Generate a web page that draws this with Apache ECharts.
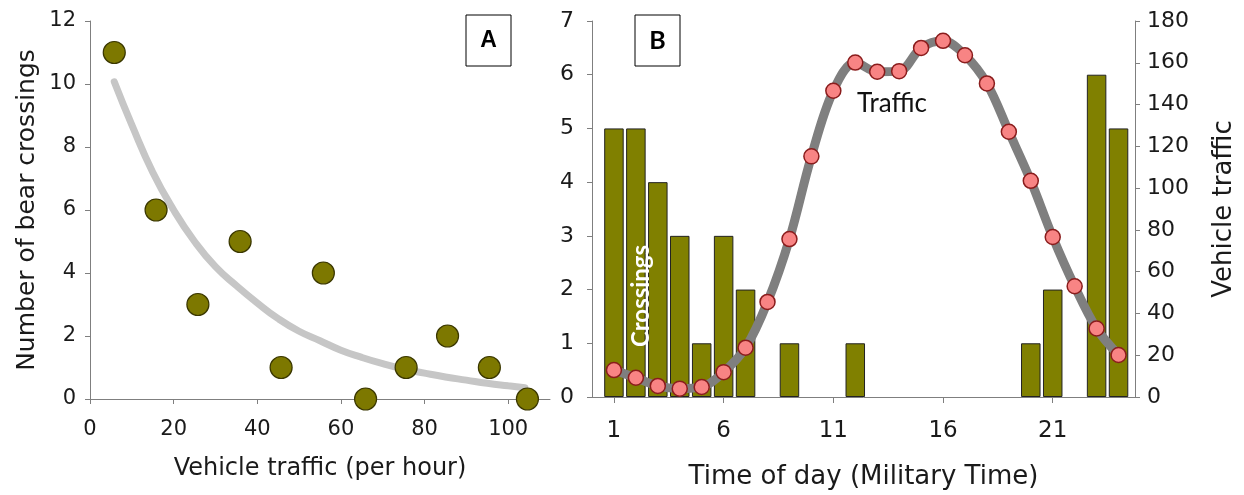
<!DOCTYPE html>
<html>
<head>
<meta charset="utf-8">
<script src="https://cdn.jsdelivr.net/npm/echarts@6/dist/echarts.min.js"></script>
<style>
  html, body { margin: 0; padding: 0; background: #fff; }
  #chart { width: 1244px; height: 495px; }
</style>
</head>
<body>
<div id="chart"></div>
<script>
// ---- Panel A data ----
const trafficA = [5.8, 15.8, 25.8, 35.9, 45.7, 55.8, 65.9, 75.6, 85.5, 95.5, 104.6];
const crossingsA = [11, 6, 3, 5, 1, 4, 0, 1, 2, 1, 0];
const fitX = [5.8, 10, 15, 20, 25, 30, 35, 40, 45, 50, 55, 60, 65, 70, 75, 80, 85, 90, 95, 100, 104];
const fitY = [10.07, 8.7, 7.2, 6.0, 5.0, 4.2, 3.6, 3.05, 2.55, 2.15, 1.85, 1.55, 1.32, 1.12, 0.95, 0.82, 0.7, 0.6, 0.5, 0.42, 0.36];
const ticksAx = [0, 20, 40, 60, 80, 100];

// ---- Panel B data ----
const hours = [1,2,3,4,5,6,7,8,9,10,11,12,13,14,15,16,17,18,19,20,21,22,23,24];
const crossingsB = [5,5,4,3,1,3,2,0,1,0,0,1,0,0,0,0,0,0,0,1,2,0,6,5];
const trafficB = [12.9, 9.2, 5.3, 4.0, 4.8, 11.9, 23.6, 45.5, 75.6, 115.2, 146.6, 160.1,
                  155.7, 156.0, 167.1, 170.5, 163.6, 150.1, 127.0, 103.5, 76.6, 53.0, 32.8, 20.1];
const ticksBx = [1, 6, 11, 16, 21];

const FONT = 'DejaVu Sans';
const AXC = '#7f7f7f';
const TXT = '#1a1a1a';

const chart = echarts.init(document.getElementById('chart'), null, { renderer: 'canvas' });

const zipPairs = (xs, ys) => xs.map((x, i) => [x, ys[i]]);
// hours with no crossings have no bar drawn
const barPairs = hours.map((h, i) => crossingsB[i] > 0 ? [h, crossingsB[i]] : [h, '-']);

const option = {
  animation: false,
  backgroundColor: '#fff',
  grid: [
    { left: 90, top: 21, width: 460, height: 378 },
    { left: 592, top: 21, width: 543, height: 377 }
  ],
  xAxis: [
    {
      gridIndex: 0, type: 'value', min: 0, max: 110,
      axisLine: { show: true, onZero: false, lineStyle: { color: AXC, width: 1 } },
      axisTick: { show: true, length: 5, customValues: ticksAx, lineStyle: { color: AXC } },
      axisLabel: { customValues: ticksAx, margin: 20, fontSize: 21, fontFamily: FONT, color: TXT },
      splitLine: { show: false },
      name: 'Vehicle traffic (per hour)', nameLocation: 'middle', nameGap: 58,
      nameTextStyle: { fontSize: 24, fontFamily: FONT, color: TXT }
    },
    {
      gridIndex: 1, type: 'value', min: 0, max: 24.75,
      axisLine: { show: true, onZero: false, lineStyle: { color: AXC, width: 1 } },
      axisTick: { show: true, length: 6, customValues: ticksBx, lineStyle: { color: AXC } },
      axisLabel: { customValues: ticksBx, margin: 23, fontSize: 23, fontFamily: FONT, color: TXT },
      splitLine: { show: false },
      name: 'Time of day (Military Time)', nameLocation: 'middle', nameGap: 67,
      nameTextStyle: { fontSize: 26, fontFamily: FONT, color: TXT }
    }
  ],
  yAxis: [
    {
      gridIndex: 0, type: 'value', min: 0, max: 12, interval: 2,
      axisLine: { show: true, lineStyle: { color: AXC, width: 1 } },
      axisTick: { show: true, length: 5, lineStyle: { color: AXC } },
      axisLabel: { margin: 14, fontSize: 21, fontFamily: FONT, color: TXT },
      splitLine: { show: false },
      name: 'Number of bear crossings', nameLocation: 'middle', nameGap: 50,
      nameTextStyle: { fontSize: 25, fontFamily: FONT, color: TXT }
    },
    {
      gridIndex: 1, type: 'value', min: 0, max: 7, interval: 1, position: 'left',
      axisLine: { show: true, lineStyle: { color: AXC, width: 1 } },
      axisTick: { show: true, length: 5, lineStyle: { color: AXC } },
      axisLabel: { margin: 18, fontSize: 22, fontFamily: FONT, color: TXT },
      splitLine: { show: false }
    },
    {
      gridIndex: 1, type: 'value', min: 0, max: 180, interval: 20, position: 'right',
      axisLine: { show: true, lineStyle: { color: AXC, width: 1 } },
      axisTick: { show: true, length: 5, lineStyle: { color: AXC } },
      axisLabel: { margin: 12, fontSize: 22, fontFamily: FONT, color: TXT },
      splitLine: { show: false },
      name: 'Vehicle traffic', nameLocation: 'middle', nameGap: 76, nameRotate: 90,
      nameTextStyle: { fontSize: 26, fontFamily: FONT, color: TXT }
    }
  ],
  series: [
    {
      type: 'line', xAxisIndex: 0, yAxisIndex: 0,
      data: zipPairs(fitX, fitY), smooth: true, showSymbol: false, symbol: 'none',
      lineStyle: { color: '#c6c6c6', width: 7, cap: 'round' }, z: 1
    },
    {
      type: 'scatter', xAxisIndex: 0, yAxisIndex: 0,
      data: zipPairs(trafficA, crossingsA), symbolSize: 22,
      itemStyle: { color: '#7d7800', borderColor: '#3a3700', borderWidth: 1.2, opacity: 1 }, z: 3
    },
    {
      type: 'bar', xAxisIndex: 1, yAxisIndex: 1,
      data: barPairs, barWidth: 19.5,
      itemStyle: { color: '#808000', borderColor: '#222', borderWidth: 1 }, z: 2
    },
    {
      type: 'line', xAxisIndex: 1, yAxisIndex: 2,
      data: zipPairs(hours, trafficB), smooth: 0.35,
      symbol: 'circle', symbolSize: 15, showAllSymbol: true,
      lineStyle: { color: '#7f7f7f', width: 9 },
      itemStyle: { color: '#f88484', borderColor: '#8a1c1c', borderWidth: 1.5 }, z: 4
    }
  ],
  graphic: [
    { type: 'rect', shape: { x: 466, y: 15, width: 45, height: 51 },
      style: { fill: '#fff', stroke: '#000', lineWidth: 1 }, z: 10 },
    { type: 'text', x: 488.5, y: 41, z: 11,
      style: { text: 'A', fill: '#000', font: 'bold 23px "Liberation Sans"', align: 'center', verticalAlign: 'middle' } },
    { type: 'rect', shape: { x: 635, y: 15, width: 45, height: 51 },
      style: { fill: '#fff', stroke: '#000', lineWidth: 1 }, z: 10 },
    { type: 'text', x: 657.5, y: 41, z: 11,
      style: { text: 'B', fill: '#000', font: 'bold 25px Lato', align: 'center', verticalAlign: 'middle' } },
    { type: 'text', x: 857, y: 104, z: 11,
      style: { text: 'Traffic', fill: '#111', font: '26px Lato', align: 'left', verticalAlign: 'middle' } },
    { type: 'text', x: 641, y: 296, rotation: Math.PI / 2, z: 11,
      style: { text: 'Crossings', fill: '#fff', font: 'bold 24px Lato', align: 'center', verticalAlign: 'middle' } }
  ]
};

chart.setOption(option);
</script>
</body>
</html>
